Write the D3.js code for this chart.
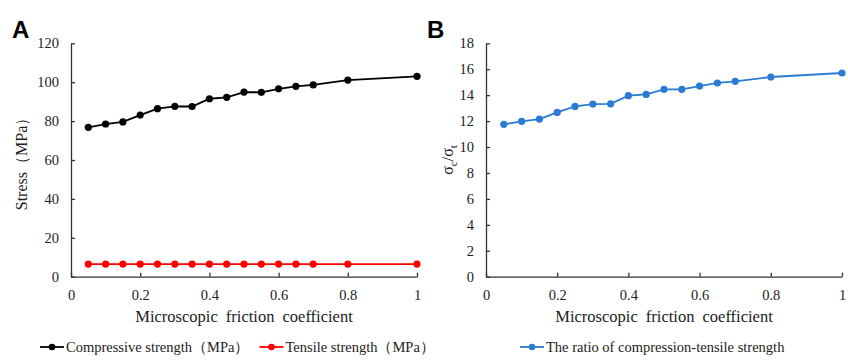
<!DOCTYPE html>
<html>
<head>
<meta charset="utf-8">
<script src="https://cdn.jsdelivr.net/npm/d3@7"></script>
<style>
  body { margin: 0; background: #fff; }
  svg text { font-family: 'Liberation Serif', 'Times New Roman', serif; fill: #222; }
  .axis path, .axis line { stroke: #333; stroke-width: 1.3; }
  .panel { font-family: 'Liberation Sans', Arial, sans-serif !important; font-weight: bold; font-size: 24px; fill: #000 !important; }
</style>
</head>
<body>
<div id="chart"></div>
<script>
// 数据 -----------------------------------
var friction = [0.05, 0.1, 0.15, 0.2, 0.25, 0.3, 0.35, 0.4, 0.45, 0.5, 0.55, 0.6, 0.65, 0.7, 0.8, 1]
var compressive = [76.8, 78.5, 79.6, 83.1, 86.4, 87.6, 87.5, 91.5, 92.2, 94.9, 94.8, 96.6, 97.9, 98.6, 101.1, 103.0]
var tensile = [6.5, 6.5, 6.5, 6.5, 6.5, 6.5, 6.5, 6.5, 6.5, 6.5, 6.5, 6.5, 6.5, 6.5, 6.5, 6.5]
var ratio = [11.75, 11.98, 12.16, 12.67, 13.13, 13.31, 13.33, 13.96, 14.06, 14.45, 14.45, 14.7, 14.94, 15.07, 15.4, 15.71]
var xTicks = [0, 0.2, 0.4, 0.6, 0.8, 1]
var stressTicks = [0, 20, 40, 60, 80, 100, 120]
var ratioTicks = [0, 2, 4, 6, 8, 10, 12, 14, 16, 18]

var W = 848, H = 360
var svg = d3.select('#chart').append('svg').attr('width', W).attr('height', H)
svg.append('rect').attr('width', W).attr('height', H).attr('fill', '#fff')

function styleTicks (a) {
  a.attr('font-family', null).attr('font-size', null)
  a.selectAll('text')
    .style('font-family', "'Liberation Serif', 'Times New Roman', serif")
    .style('font-size', '14.5px').attr('fill', '#222')
}

function panel (opt) {
  var x = d3.scaleLinear().domain([0, 1]).range([opt.left, opt.right])
  var y = d3.scaleLinear().domain([0, opt.yMax]).range([276.7, 43.3])
  var g = svg.append('g')

  // 坐标轴
  g.append('g').attr('class', 'axis')
    .attr('transform', 'translate(0,' + y(0) + ')')
    .call(d3.axisBottom(x).tickValues(xTicks).tickSizeInner(-4).tickSizeOuter(0).tickPadding(13).tickFormat(d3.format('')))
    .call(styleTicks)
  g.append('g').attr('class', 'axis')
    .attr('transform', 'translate(' + opt.left + ',0)')
    .call(d3.axisLeft(y).tickValues(opt.yTicks).tickSizeInner(-4).tickSizeOuter(0).tickPadding(12))
    .call(styleTicks)

  // 折线
  opt.series.forEach(function (s) {
    var line = d3.line().x(function (d, i) { return x(friction[i]) }).y(function (d) { return y(d) })
    g.append('path').datum(s.values)
      .attr('d', line).attr('fill', 'none').attr('stroke', s.color).attr('stroke-width', 1.8)
    g.selectAll(null).data(s.values).enter().append('circle')
      .attr('cx', function (d, i) { return x(friction[i]) })
      .attr('cy', function (d) { return y(d) })
      .attr('r', 3.6).attr('fill', s.color)
  })

  // 标题
  g.append('text').attr('x', (opt.left + opt.right) / 2).attr('y', 322)
    .attr('text-anchor', 'middle').style('font-size', '16.5px').style('word-spacing', '4px')
    .text('Microscopic friction coefficient')
  g.append('text').attr('class', 'panel').attr('x', opt.left - 59).attr('y', 38).text(opt.label)

  // 图例
  var lx = opt.legendX
  opt.series.forEach(function (s) {
    var lg = g.append('g').attr('transform', 'translate(' + lx + ',352)')
    lg.append('line').attr('x1', 0).attr('x2', 24).attr('y1', -5).attr('y2', -5)
      .attr('stroke', s.color).attr('stroke-width', 1.8)
    lg.append('circle').attr('cx', 12).attr('cy', -5).attr('r', 3.3).attr('fill', s.color)
    var t = lg.append('text').attr('x', 26).attr('y', 0).style('font-size', '14.5px').text(s.name)
    lx += 26 + t.node().getComputedTextLength() + 10
  })
  return g
}

var gA = panel({
  left: 71, right: 417, yMax: 120, yTicks: stressTicks, label: 'A', legendX: 40,
  series: [
    { name: 'Compressive strength（MPa）', values: compressive, color: '#000' },
    { name: 'Tensile strength（MPa）', values: tensile, color: '#ff0000' }
  ]
})
gA.append('text').attr('transform', 'translate(27,160) rotate(-90)')
  .attr('text-anchor', 'middle').style('font-size', '16px').text('Stress（MPa）')

var gB = panel({
  left: 486, right: 842, yMax: 18, yTicks: ratioTicks, label: 'B', legendX: 520,
  series: [
    { name: 'The ratio of compression-tensile strength', values: ratio, color: '#2a7bd3' }
  ]
})
var yl = gB.append('text').attr('transform', 'translate(453,160) rotate(-90)')
  .attr('text-anchor', 'middle').style('font-size', '16px')
yl.append('tspan').text('σ')
yl.append('tspan').attr('dy', 4).style('font-size', '11px').text('c')
yl.append('tspan').attr('dy', -4).text('/σ')
yl.append('tspan').attr('dy', 4).style('font-size', '11px').text('t')
</script>
</body>
</html>
